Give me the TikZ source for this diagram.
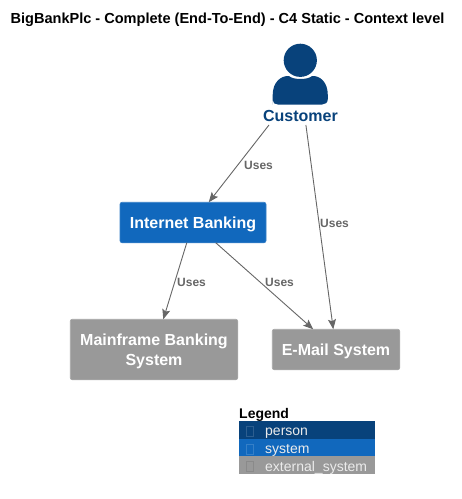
\documentclass[tikz,border=0pt]{standalone}
\usepackage{fontspec}
\setmainfont{Liberation Sans}
\usetikzlibrary{arrows.meta}
\definecolor{persc}{HTML}{08427B}
\definecolor{sysc}{HTML}{1168BD}
\definecolor{extc}{HTML}{999999}
\definecolor{linec}{HTML}{666666}
\newcommand{\lowered}[1]{\raisebox{-2pt}[11.6pt][3.4pt]{#1}}
\tikzset{
  x=1pt,y=-1pt,
  boxnode/.style={rounded corners=2pt,draw=#1!85!white,fill=#1,line width=0.6pt,text=white,font=\bfseries\fontsize{16}{20}\selectfont,align=center,inner sep=0,outer sep=0},
  uses/.style={linec,line width=0.9pt,-{Stealth[length=10pt,width=8pt,inset=2pt]}},
  useslabel/.style={text=linec,font=\bfseries\fontsize{12}{14}\selectfont,inner sep=0},
  legendrow/.style={fill=#1,draw=none,minimum width=136pt,minimum height=17.5pt,inner sep=0,outer sep=0},
  legendtext/.style={text=white!92!black,font=\fontsize{14}{16}\selectfont,inner sep=0,anchor=base west},
  glyphbox/.style={draw=#1,line width=0.5pt,minimum width=7pt,minimum height=10pt,inner sep=0},
}
\begin{document}
\begin{tikzpicture}
\useasboundingbox[fill=white] (0,0) rectangle (462,499);
\node[font=\bfseries\fontsize{14.55}{16}\selectfont,inner sep=0] (title) at (227.5,20) {BigBankPlc - Complete (End-To-End) - C4 Static - Context level};
% nodes
\node[inner sep=0,outer sep=0,minimum width=75pt,minimum height=81pt] (customer) at (300.5,84.5) {};
\fill[persc] (300.3,60.3) circle (16.6);
\fill[persc] (272.7,104.5) -- (272.7,95) .. controls (272.7,82) and (281,75.5) .. (289,76)
  .. controls (293,80) and (308,80) .. (312,76)
  .. controls (320,75.5) and (327.8,82) .. (327.8,95) -- (327.8,99)
  .. controls (327.8,103) and (325,104.5) .. (322,104.5) -- (278,104.5)
  .. controls (275,104.5) and (272.7,103) .. (272.7,100) -- cycle;
\node[text=persc,font=\bfseries\fontsize{16}{18}\selectfont,inner sep=0] (customerlabel) at (300.5,116) {Customer};
\node[boxnode=sysc,minimum width=146pt,minimum height=40.5pt] (ib) at (193,222.5) {\lowered{Internet Banking}};
\node[boxnode=extc,minimum width=167.5pt,minimum height=60.5pt] (mf) at (154,349.5) {\lowered{Mainframe Banking}\\\lowered{System}};
\node[boxnode=extc,minimum width=127.5pt,minimum height=40.5pt] (em) at (336,349.5) {\lowered{E-Mail System}};
% connectors
\draw[uses] (customer) -- (ib);
\draw[uses] (customer) -- (em);
\draw[uses] (ib) -- (mf);
\draw[uses] (ib) -- (em);
\node[useslabel,anchor=west] (l1) at (244,165) {Uses};
\node[useslabel,anchor=west] (l2) at (320,223) {Uses};
\node[useslabel,anchor=west] (l3) at (177,282) {Uses};
\node[useslabel,anchor=west] (l4) at (265,282) {Uses};
% legend
\node[font=\bfseries\fontsize{14}{16}\selectfont,inner sep=0,anchor=base west] (legendtitle) at (239,418) {Legend};
\node[legendrow=persc] (r1) at (307,429.75) {};
\node[legendrow=sysc] (r2) at (307,447.25) {};
\node[legendrow=extc] (r3) at (307,464.75) {};
\node[glyphbox=persc!85!white] (g1) at (250,431) {};
\node[glyphbox=sysc!85!white] (g2) at (250,449) {};
\node[glyphbox=extc!90!black] (g3) at (250,466.5) {};
\node[legendtext] (t1) at (265,435.5) {person};
\node[legendtext] (t2) at (265,453.5) {system};
\node[legendtext] (t3) at (265,471) {external\_system};
\end{tikzpicture}
\end{document}
